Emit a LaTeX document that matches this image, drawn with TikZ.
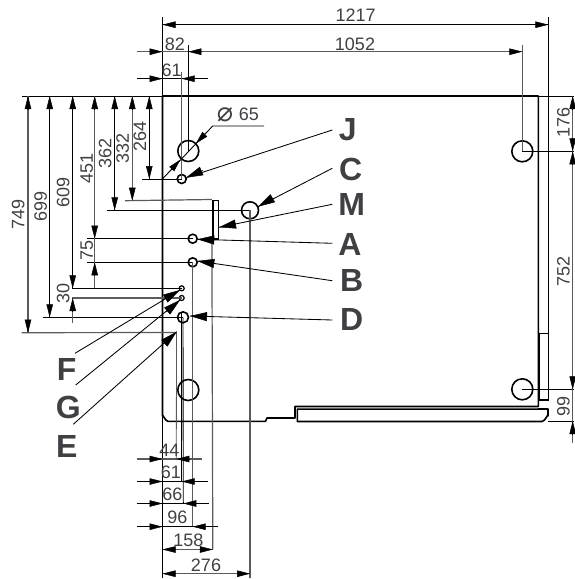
\documentclass[tikz,border=0pt]{standalone}
\usepackage{fontspec}
\setmainfont{Liberation Sans}
\newfontfamily\symfont{DejaVu Sans}
\usetikzlibrary{arrows.meta}
\definecolor{txt}{HTML}{404044}
\definecolor{gl}{HTML}{5A5A5A}
\newcommand{\seg}[4][ln]{\coordinate (#2-a) at (#3);\coordinate (#2-b) at (#4);\draw[#1] (#2-a) -- (#2-b);}
\newcommand{\tip}[3]{\coordinate (#1-a) at (#2);\coordinate (#1-b) at (#3);\draw[dimtip] (#1-a) -- (#1-b);}
\newcommand{\leader}[4]{\coordinate (#1-s) at (#2);\coordinate (#1-m) at (#3);\coordinate (#1-t) at (#4);\draw[lead] (#1-s) -- (#1-t);\draw[leadtip] (#1-m) -- (#1-t);}
\tikzset{
  ln/.style={draw=black,line width=0.9pt},
  gr/.style={draw=gl,line width=1.2pt},
  plate/.style={draw=black,line width=1.6pt,line join=round},
  hole/.style={circle,draw=black,line width=1.6pt,inner sep=0pt,minimum size=#1},
  dimtip/.style={draw=black,line width=0.5pt,-{Triangle[length=13pt,width=6.5pt]}},
  leadtip/.style={draw=black,line width=0.5pt,-{Triangle[length=17pt,width=9pt]}},
  lead/.style={draw=black,line width=0.85pt},
  num/.style={text=txt,inner sep=0pt,font=\fontsize{18}{18}\selectfont},
  numv/.style={num,rotate=90},
  letter/.style={text=txt,inner sep=0pt,font=\fontsize{32}{32}\selectfont\bfseries},
}
\begin{document}
\begin{tikzpicture}[x=1pt,y=-1pt]
\useasboundingbox (0,0) rectangle (574,579);
% plate outline
\draw[plate] (162.5,96) -- (538.3,96) -- (538.3,406.5) -- (295,406.5) -- (295,418) -- (267,418) -- (265.5,421.3) -- (168,421.3) to[out=180,in=90] (162.5,416) -- cycle;
\draw[plate] (297.3,409) -- (548,409) -- (548,416) to[out=90,in=0] (542,421.5) -- (297.3,421.5) -- cycle;
\draw[draw=gl,line width=0.8pt] (296.5,408) -- (538,408);
\node[draw=black,line width=1.6pt,inner sep=0pt,minimum width=5.6pt,minimum height=38.4pt] (rM) at (215.5,219.5) {};
\node[draw=black,line width=1.5pt,inner sep=0pt,minimum width=9pt,minimum height=66.7pt] (rR) at (543.8,366.7) {};
% holes
\node[hole=21pt] (h1) at (188.3,151) {};
\node[hole=21pt] (h2) at (522.3,151.3) {};
\node[hole=21pt] (h3) at (522.3,389.3) {};
\node[hole=21pt] (h4) at (188.3,390) {};
\node[hole=17pt] (hC) at (250,210.3) {};
\node[hole=9pt] (hJ) at (181.7,179) {};
\node[hole=9pt] (hA) at (192.7,238.7) {};
\node[hole=9pt] (hB) at (192.7,262.3) {};
\node[hole=11pt] (hD) at (183,317.3) {};
\node[circle,draw=black,line width=1.2pt,inner sep=0pt,minimum size=5pt] (hF) at (181.7,288.3) {};
\node[circle,draw=black,line width=1.2pt,inner sep=0pt,minimum size=5pt] (hG) at (181.7,298) {};
\coordinate (hE) at (176.5,332.5);
% datum extension lines
\seg[plate]{xL}{162.5,17}{162.5,578}
\seg[ln]{xR}{548.3,17}{548.3,333}
\seg[ln]{yT}{21.7,96}{162.5,96}
\seg[ln]{yTr}{538.3,96}{574,96}
\seg[ln]{yB}{548,421}{574,421}
% top dimensions
\seg[ln]{d1217}{162.5,24.7}{548.3,24.7}
\tip{a1}{175.5,24.7}{162.5,24.7}\tip{a2}{535.3,24.7}{548.3,24.7}
\seg[gr]{d1052}{136.7,51.7}{522.3,51.7}
\tip{a3}{149.5,51.7}{162.5,51.7}\tip{a4}{202,51.7}{188.3,51.7}\tip{a5}{509.3,51.7}{522.3,51.7}
\seg[ln]{d61t}{136.7,78.7}{207.7,78.7}
\tip{a6}{149.5,78.7}{162.5,78.7}\tip{a7}{195,78.7}{181.7,78.7}
\coordinate (e82) at (188.3,45);\draw[ln] (e82) -- (h1.center);
\coordinate (e61) at (181.7,72);\draw[gr] (e61) -- (hJ.center);
\coordinate (e1052) at (522.3,45);\draw[gr] (e1052) -- (h2.center);
% diameter leader
\coordinate (ph1) at (264,126);\coordinate (ph2) at (212.7,126);\coordinate (ph3) at (162.7,178.7);
\draw[ln] (ph1) -- (ph2) -- (ph3);
\tip{a8}{207,132}{195.8,143.6}\tip{a9}{169,172}{180.5,159.5}
\node[text=txt,inner sep=0pt,font=\symfont\fontsize{27}{27}\selectfont] (tphi) at (225,114.5) {⌀};
\node[num] (t65) at (249,114.5) {65};
% left extensions
\coordinate (y179) at (142,179);\draw[ln] (y179) -- (hJ.center);
\coordinate (y201) at (125,200.7);\draw[gr] (y201) -- (rM.north west);
\coordinate (y210) at (107,210.3);\draw[ln] (y210) -- (hC.center);
\coordinate (y239) at (87,238.7);\draw[ln] (y239) -- (hA.center);
\coordinate (y262) at (87,262.3);\draw[ln] (y262) -- (hB.center);
\coordinate (y288) at (72,288.3);\draw[ln] (y288) -- (hF.center);
\coordinate (y298) at (72,298);\draw[gr] (y298) -- (hG.center);
\coordinate (y317) at (43,317.3);\draw[ln] (y317) -- (hD.center);
\coordinate (y333) at (21.7,332.7);\draw[gr] (y333) -- (hE);
% left dimensions
\seg[ln]{v264}{149.3,96}{149.3,179}\tip{b1}{149.3,109}{149.3,96}\tip{b2}{149.3,166}{149.3,179}
\seg[gr]{v332}{132.3,96}{132.3,200.7}\tip{b3}{132.3,109}{132.3,96}\tip{b4}{132.3,187.7}{132.3,200.7}
\seg[ln]{v362}{114.7,96}{114.7,210.3}\tip{b5}{114.7,109}{114.7,96}\tip{b6}{114.7,197.3}{114.7,210.3}
\seg[gr]{v451}{94.7,96}{94.7,288.3}\tip{b7}{94.7,109}{94.7,96}\tip{b8}{94.7,225.7}{94.7,238.7}\tip{b9}{94.7,275.3}{94.7,262.3}
\seg[ln]{v609}{72.7,96}{72.7,288.3}\tip{b10}{72.7,109}{72.7,96}\tip{b11}{72.7,275.3}{72.7,288.3}
\seg[gr]{v30}{72.7,298}{72.7,323}\tip{b12}{72.7,311}{72.7,298}
\seg[ln]{v699}{49.7,96}{49.7,317.3}\tip{b13}{49.7,109}{49.7,96}\tip{b14}{49.7,304.3}{49.7,317.3}
\seg[gr]{v749}{28,96}{28,332.7}\tip{b15}{28,109}{28,96}\tip{b16}{28,319.7}{28,332.7}
% right extensions and dimensions
\coordinate (r151) at (574,151.3);\draw[ln] (h2.center) -- (r151);
\coordinate (r389) at (574,389.3);\draw[ln] (h3.center) -- (r389);
\seg[gr]{v752}{572.7,96}{572.7,443}
\tip{c1}{572.7,110}{572.7,96}\tip{c2}{572.7,138}{572.7,151.3}\tip{c3}{572.7,165}{572.7,151.3}\tip{c4}{572.7,375.5}{572.7,389.3}\tip{c5}{572.7,434.5}{572.7,421}
% bottom extensions
\coordinate (b44) at (176.3,460);\draw[gr,line width=.8pt] (hE) -- (b44);
\coordinate (t61) at (181.7,312);\coordinate (b61) at (181.7,481.7);\draw[ln] (t61) -- (b61);
\coordinate (b66) at (183.3,503);\draw[ln] (hD.center) -- (b66);
\coordinate (b96) at (192.7,526.7);\draw[gr] (hB.center) -- (b96);
\coordinate (b158) at (212.8,549);\draw[gr] (rM.south west) -- (b158);
\coordinate (b276) at (250,578);\draw[gr] (hC.center) -- (b276);
% bottom dimensions
\seg[gr]{h44}{136.7,459}{202,459}\tip{e1}{149.5,459}{162.5,459}\tip{e2}{189.3,459}{176.3,459}
\seg[ln]{h61}{136.7,481.5}{207.7,481.5}\tip{e3}{149.5,481.5}{162.5,481.5}\tip{e4}{194.7,481.5}{181.7,481.5}
\seg[ln]{h66}{136.7,503.5}{209,503.5}\tip{e5}{149.5,503.5}{162.5,503.5}\tip{e6}{196.3,503.5}{183.3,503.5}
\seg[ln]{h96}{136.7,526.7}{218,526.7}\tip{e7}{149.5,526.7}{162.5,526.7}\tip{e8}{205.7,526.7}{192.7,526.7}
\seg[gr]{h158}{162.5,549.5}{212.8,549.5}\tip{e9}{175.5,549.5}{162.5,549.5}\tip{e10}{199.8,549.5}{212.8,549.5}
\seg[gr]{h276}{162.5,573.7}{250,573.7}\tip{e11}{175.5,573.7}{162.5,573.7}\tip{e12}{237,573.7}{250,573.7}
% dimension numbers
\node[num] (n1217) at (355.7,15.7) {1217};
\node[num] (n1052) at (355,44) {1052};
\node[num] (n82) at (175,44) {82};
\node[num] (n61t) at (171.7,70) {61};
\node[numv] (n264) at (140,136.7) {264};
\node[numv] (n332) at (122.7,148.3) {332};
\node[numv] (n362) at (105.3,153.3) {362};
\node[numv] (n451) at (86.7,168.3) {451};
\node[numv] (n609) at (63.3,192.3) {609};
\node[numv] (n699) at (40.7,206.7) {699};
\node[numv] (n749) at (18.3,214.3) {749};
\node[numv] (n75) at (86.7,250) {75};
\node[numv] (n30) at (63.3,293.3) {30};
\node[numv] (n176) at (563.3,122.7) {176};
\node[numv] (n752) at (563.3,271) {752};
\node[numv] (n99) at (563.3,406.7) {99};
\node[num] (n44) at (169.3,450.7) {44};
\node[num] (n61) at (171,472.7) {61};
\node[num] (n66) at (172.3,494.3) {66};
\node[num] (n96) at (177.3,517.3) {96};
\node[num] (n158) at (188.3,540.7) {158};
\node[num] (n276) at (206,565) {276};
% letters and leaders
\node[letter] (lJ) at (347.7,130) {J};
\node[letter] (lC) at (350.7,169.3) {C};
\node[letter] (lM) at (351.7,204.3) {M};
\node[letter] (lA) at (350,244.3) {A};
\node[letter] (lB) at (351.7,280.7) {B};
\node[letter] (lD) at (351.7,319.3) {D};
\node[letter] (lF) at (66.7,369.3) {F};
\node[letter] (lG) at (68.3,407.3) {G};
\node[letter] (lE) at (66.7,446) {E};
\leader{pJ}{332.3,130}{203,170.4}{186,177.7}
\leader{pC}{332.3,168.3}{270.5,199.5}{258,206.7}
\leader{pM}{332.3,204.3}{236,224}{219,227.3}
\leader{pA}{332.3,243.3}{214.5,240}{197.3,239.3}
\leader{pB}{332.3,280.7}{214.5,263.5}{197.3,261}
\leader{pD}{332.3,320}{211,316.8}{190,316}
\leader{pF}{75,353.3}{163,300}{180,290}
\leader{pG}{75.7,385}{166,312}{180,300}
\leader{pE}{73.3,424.3}{163.5,344}{176.7,331.7}
\end{tikzpicture}
\end{document}
